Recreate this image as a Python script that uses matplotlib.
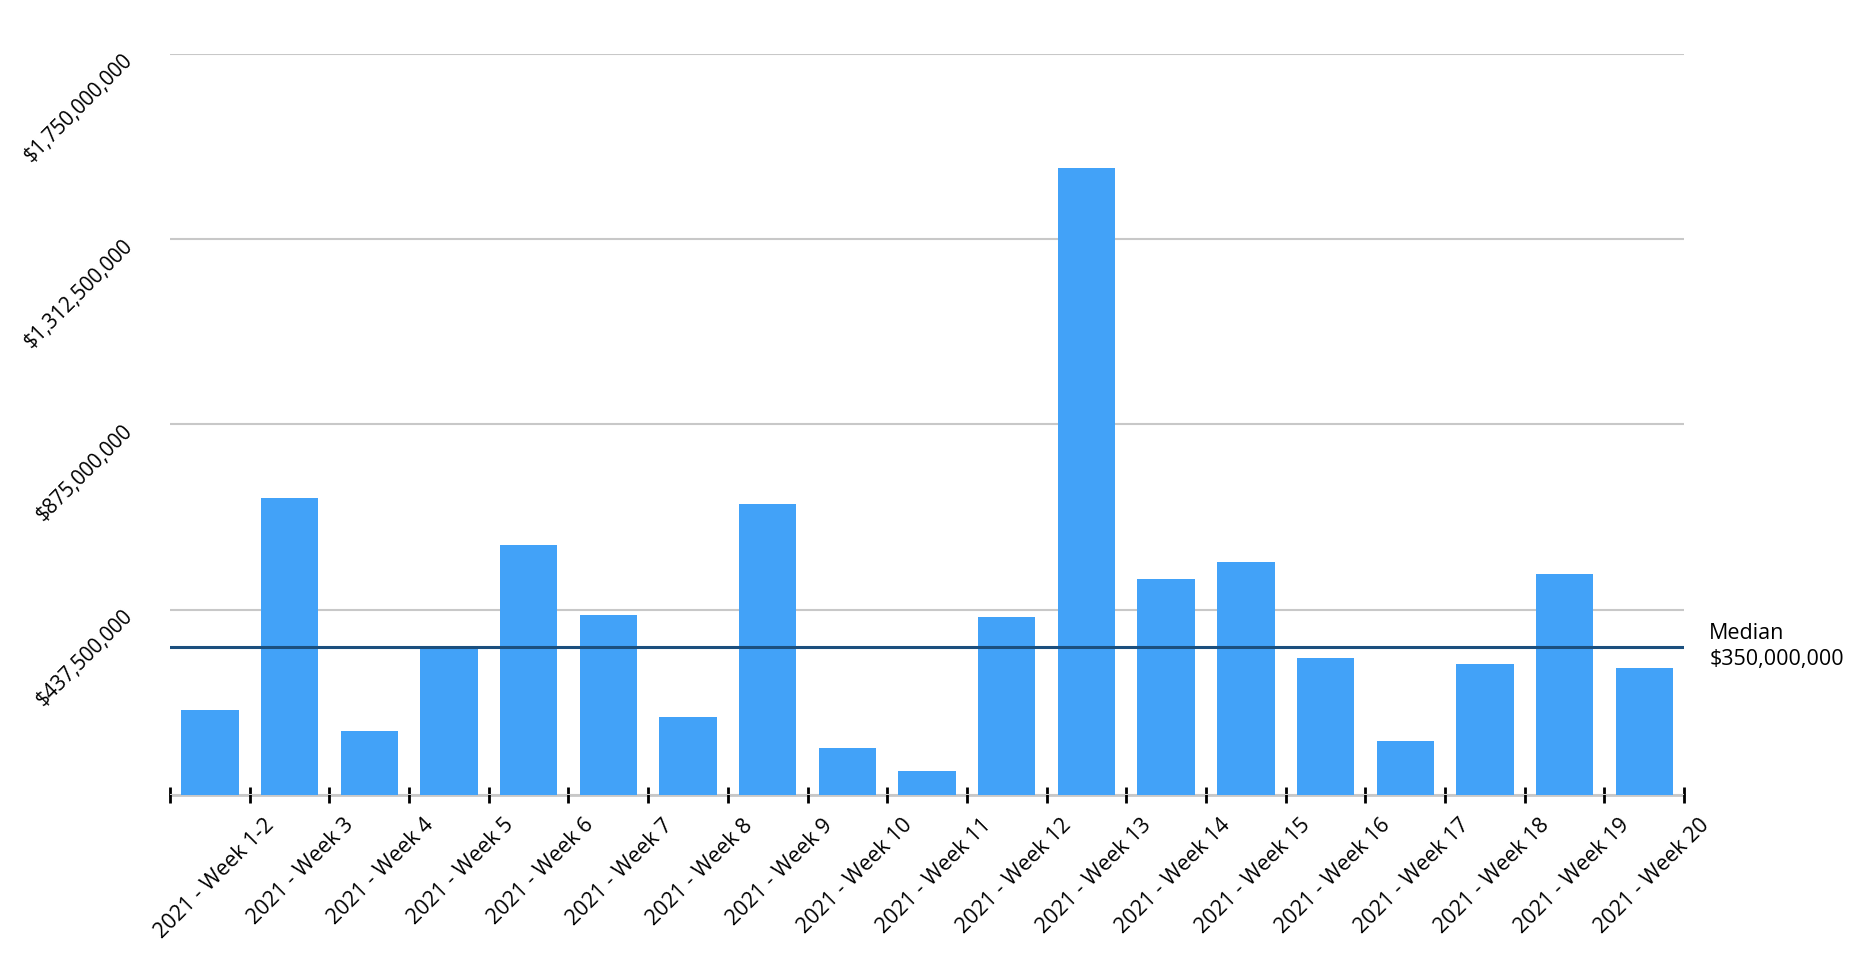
import matplotlib

matplotlib.use("Agg")
import matplotlib.pyplot as plt
import numpy as np
from matplotlib.ticker import FixedLocator, FuncFormatter
from matplotlib.transforms import ScaledTranslation

plt.rcParams["font.family"] = ["Open Sans", "DejaVu Sans"]

weeks = [
    "2021 - Week 1-2", "2021 - Week 3", "2021 - Week 4", "2021 - Week 5",
    "2021 - Week 6", "2021 - Week 7", "2021 - Week 8", "2021 - Week 9",
    "2021 - Week 10", "2021 - Week 11", "2021 - Week 12", "2021 - Week 13",
    "2021 - Week 14", "2021 - Week 15", "2021 - Week 16", "2021 - Week 17",
    "2021 - Week 18", "2021 - Week 19", "2021 - Week 20",
]
# values in millions of dollars
values = [
    200, 700, 150, 350, 590, 425, 183, 688, 110, 55,
    420, 1480, 510, 550, 323, 126, 309, 522, 299,
]
y_ticks = [0, 437.5e6, 875e6, 1312.5e6, 1750e6]
median = 350e6

BAR = "#42A2F8"
MEDIAN = "#1B4F7E"
GRID = "#C8C8C8"

fig = plt.figure(figsize=(18.74, 9.8), dpi=100)
ax = fig.add_axes([0.0907, 0.189, 0.808, 0.756])

x = np.arange(len(weeks))
ax.bar(x, np.array(values) * 1e6, width=0.72, color=BAR, zorder=2)
ax.axhline(median, color=MEDIAN, linewidth=2.2, zorder=3)

ax.set_xlim(-0.5, len(weeks) - 0.5)
ax.set_ylim(0, 1750e6)

# grid + baseline
ax.set_yticks(y_ticks)
ax.grid(axis="y", color=GRID, linewidth=1.5, zorder=0)
ax.grid(axis="x", visible=False)
for side in ["top", "right", "left"]:
    ax.spines[side].set_visible(False)
ax.spines["bottom"].set_color(GRID)
ax.spines["bottom"].set_linewidth(2)
ax.spines["bottom"].set_zorder(1)

# y labels: rotated, first (zero) label hidden
ax.yaxis.set_major_formatter(FuncFormatter(lambda v, p: "" if v == 0 else f"${v:,.0f}"))
ax.tick_params(axis="y", length=0, pad=0, labelsize=14.8)
for lab in ax.get_yticklabels():
    lab.set_rotation(45)
    lab.set_rotation_mode("anchor")
    lab.set_ha("right")
    lab.set_va("top")
    lab.set_transform(lab.get_transform() + ScaledTranslation(-0.48, 0.04, fig.dpi_scale_trans))

# x: labels at centres, tick marks at category boundaries
ax.set_xticks(x)
ax.set_xticklabels(weeks)
ax.xaxis.set_minor_locator(FixedLocator(np.arange(-0.5, len(weeks), 1.0)))
ax.tick_params(axis="x", which="major", length=0, pad=0, labelsize=15.5)
ax.tick_params(axis="x", which="minor", direction="inout", length=12, width=2, color="black")
for lab in ax.get_xticklabels():
    lab.set_rotation(45)
    lab.set_rotation_mode("anchor")
    lab.set_ha("right")
    lab.set_va("top")
    lab.set_transform(lab.get_transform() + ScaledTranslation(0.54, -0.20, fig.dpi_scale_trans))

ax.annotate(
    f"Median\n${median:,.0f}",
    xy=(1, median),
    xycoords=("axes fraction", "data"),
    xytext=(18, 0),
    textcoords="offset points",
    ha="left",
    va="center",
    fontsize=15.5,
    linespacing=1.3,
)

fig.savefig("out.png", dpi=100)
